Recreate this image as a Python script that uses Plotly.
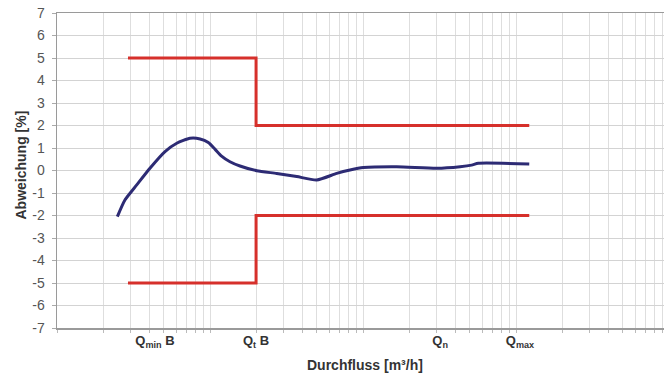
import plotly.graph_objects as go

# Measured curve (Durchfluss in relative log units, Abweichung in %)
flow = [0.0248, 0.0278, 0.0332, 0.0405, 0.0508, 0.0606, 0.074, 0.0861, 0.0975,
        0.108, 0.119, 0.135, 0.157, 0.202, 0.273, 0.369, 0.498, 0.673, 0.822,
        1.005, 1.66, 3.03, 4.31, 5.13, 5.67, 12.2]
deviation = [-2.05, -1.31, -0.64, 0.10, 0.84, 1.21, 1.43, 1.40, 1.24,
             0.94, 0.64, 0.39, 0.20, -0.01, -0.13, -0.27, -0.42, -0.13, 0.02,
             0.13, 0.17, 0.10, 0.17, 0.24, 0.32, 0.29]

# Error limits
limit_flow = [0.0291, 0.2, 0.2, 12.2]
limit_upper = [5, 5, 2, 2]
limit_lower = [-5, -5, -2, -2]

# Tick labels
tick_pos = [0.0437, 0.2, 3.19, 10.6]
tick_text = ["Q<sub>min</sub> B", "Q<sub>t</sub> B", "Q<sub>n</sub>", "Q<sub>max</sub>"]
y_ticks = list(range(-7, 8))
x_title = "Durchfluss [m³/h]"
y_title = "Abweichung [%]"

grid_vals = [m * 10 ** e for e in (-2, -1, 0, 1) for m in range(1, 10)]

fig = go.Figure()
fig.add_trace(go.Scatter(x=limit_flow, y=limit_upper, mode="lines",
                         line=dict(color="#d6302b", width=3), showlegend=False))
fig.add_trace(go.Scatter(x=limit_flow, y=limit_lower, mode="lines",
                         line=dict(color="#d6302b", width=3), showlegend=False))
fig.add_trace(go.Scatter(x=flow, y=deviation, mode="lines",
                         line=dict(color="#2d2b74", width=3, shape="spline", smoothing=0.6),
                         showlegend=False))

font = "Liberation Sans, Arial, sans-serif"
fig.update_layout(
    width=664, height=376,
    margin=dict(l=57, r=0, t=13, b=48),
    paper_bgcolor="white", plot_bgcolor="white",
    font=dict(family=font, color="#333333"),
    hovermode=False,
    xaxis=dict(
        type="log", range=[-2, 1.967], automargin=False,
        tickvals=tick_pos, ticktext=["<b>" + t + "</b>" for t in tick_text],
        tickfont=dict(size=13, color="#333333", family=font),
        showgrid=False, ticks="",
        minor=dict(tickvals=grid_vals, showgrid=True, gridcolor="#dedede",
                   gridwidth=1, ticks="outside", ticklen=3, tickcolor="#bbbbbb"),
        showline=True, linecolor="#9a9a9a", linewidth=1.5, mirror=True,
        zeroline=False,
    ),
    yaxis=dict(
        range=[-7, 7], automargin=False, tickvals=y_ticks,
        ticktext=[str(v) for v in y_ticks],
        tickfont=dict(size=14, color="#555555", family=font),
        ticklabelstandoff=4,
        showgrid=True, gridcolor="#d3d3d3", gridwidth=1,
        ticks="outside", ticklen=4, tickcolor="#aaaaaa",
        showline=True, linecolor="#9a9a9a", linewidth=1.5,
        zeroline=False,
    ),
    annotations=[
        dict(text="<b>" + x_title + "</b>", xref="paper", yref="paper",
             x=0.507, y=0, yanchor="middle", yshift=-37, showarrow=False,
             font=dict(size=14, color="#333333")),
        dict(text="<b>" + y_title + "</b>", xref="paper", yref="paper",
             x=0, y=0.5, xanchor="center", xshift=-37, yshift=5, textangle=-90,
             showarrow=False, font=dict(size=14, color="#333333")),
    ],
)

fig.write_html("out.html", config={"displayModeBar": False, "staticPlot": True},
               post_script="document.body.style.margin='0';document.body.style.overflow='hidden';")
